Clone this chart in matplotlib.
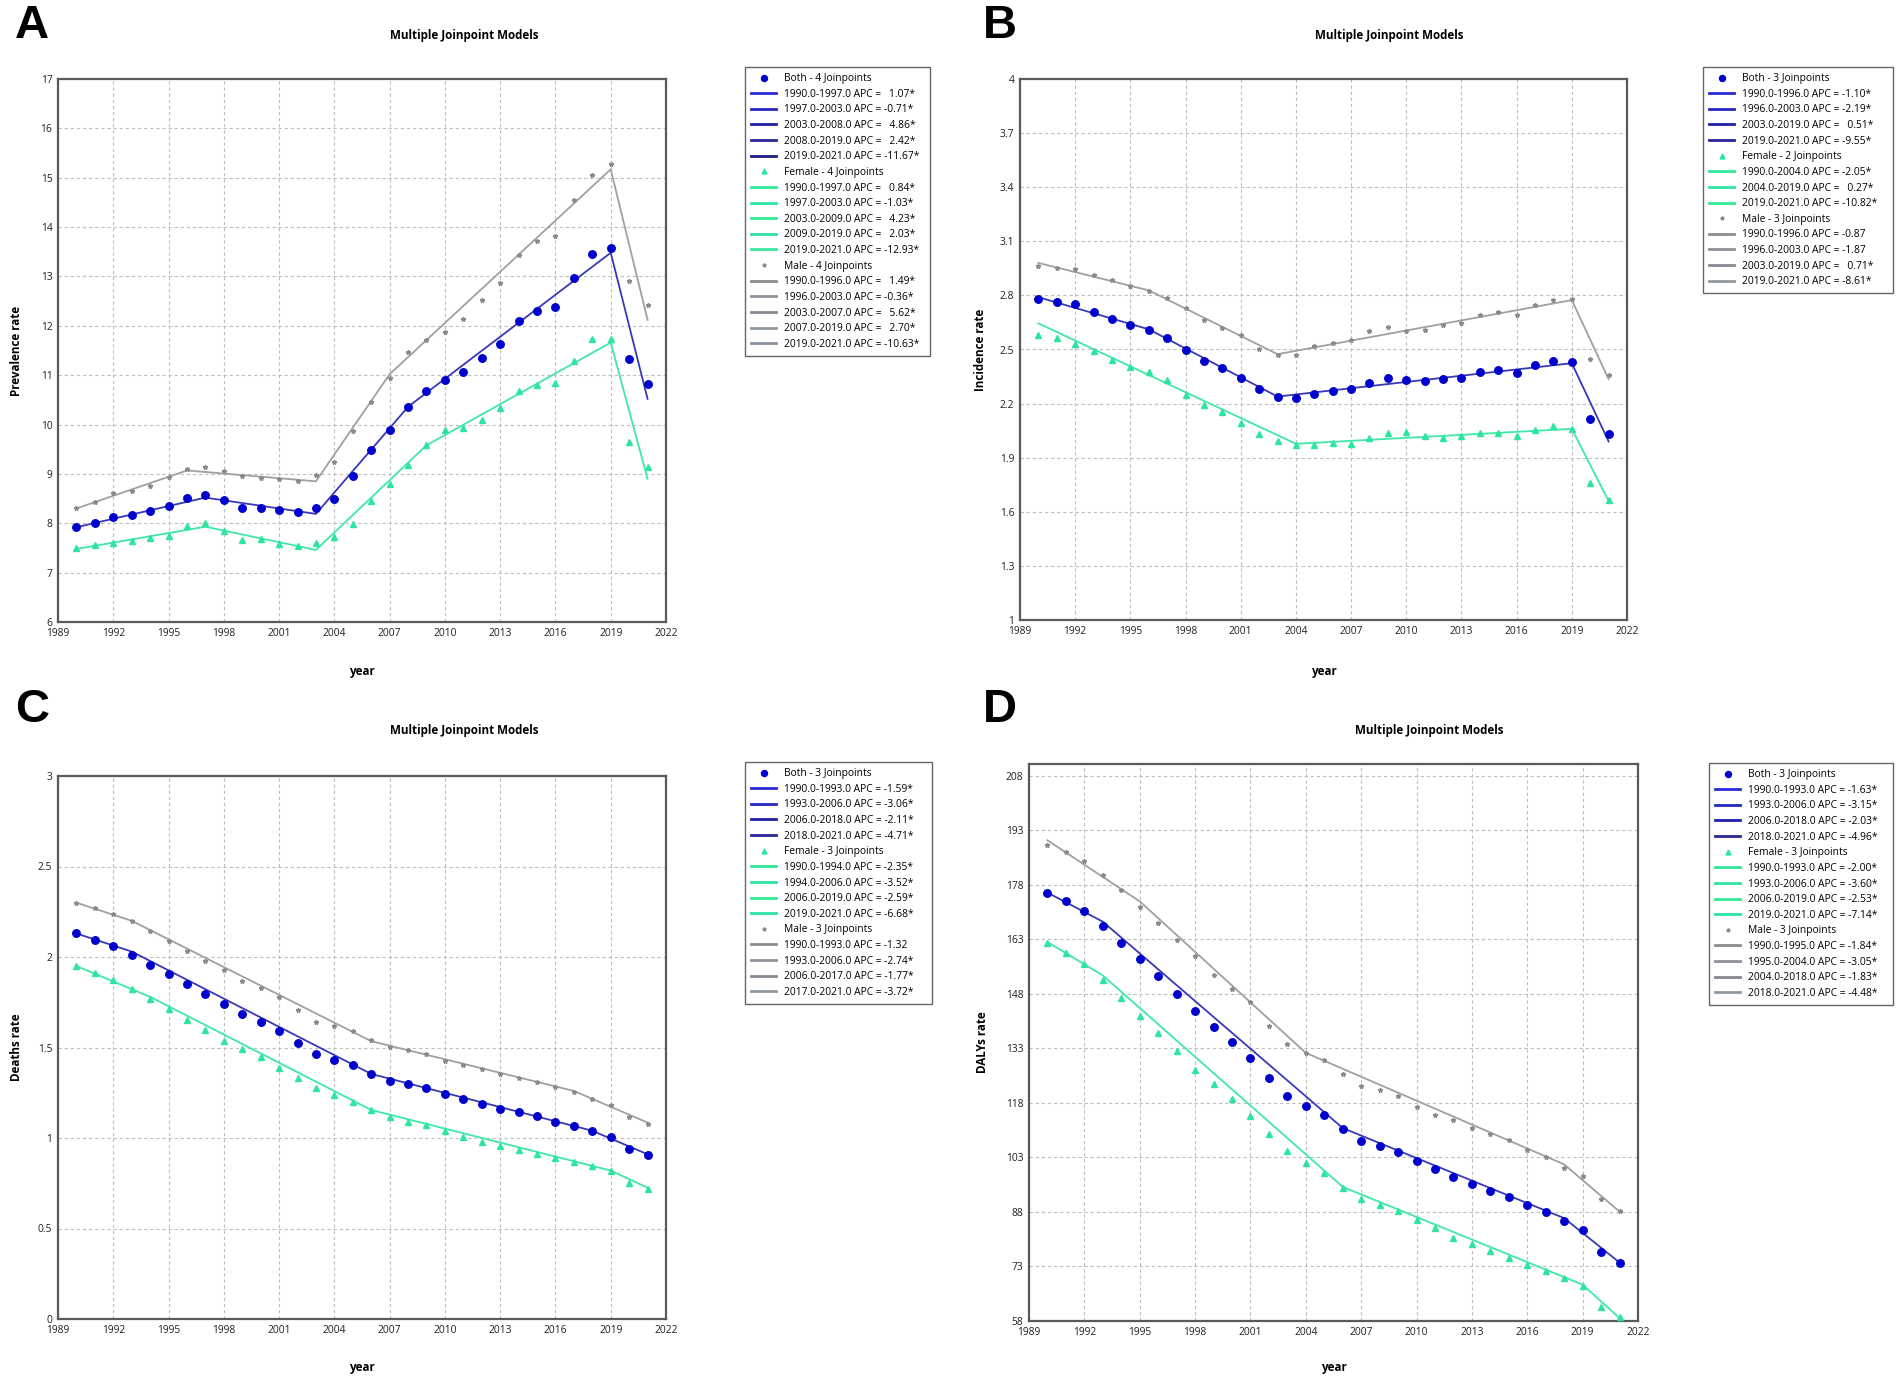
import numpy as np
import matplotlib
matplotlib.use("Agg")
import matplotlib.pyplot as plt
from matplotlib.lines import Line2D

plt.rcParams['font.family'] = ['Open Sans', 'DejaVu Sans']

W, H = 1902, 1385

years = list(range(1990, 2022))

# ---------------- Panel A : Prevalence ----------------
a_both = [7.92, 8.01, 8.12, 8.16, 8.24, 8.35, 8.52, 8.58, 8.47, 8.31, 8.31, 8.26, 8.22, 8.31,
          8.50, 8.96, 9.48, 9.89, 10.36, 10.68, 10.90, 11.06, 11.34, 11.64, 12.10, 12.31,
          12.38, 12.96, 13.45, 13.57, 11.32, 10.82]
a_female = [7.49, 7.55, 7.60, 7.64, 7.70, 7.75, 7.95, 8.01, 7.84, 7.66, 7.69, 7.58, 7.54, 7.60,
            7.72, 7.98, 8.45, 8.79, 9.18, 9.58, 9.88, 9.94, 10.10, 10.34, 10.67, 10.81,
            10.85, 11.28, 11.73, 11.73, 9.64, 9.13]
a_male = [8.31, 8.43, 8.61, 8.66, 8.75, 8.94, 9.09, 9.14, 9.05, 8.95, 8.91, 8.90, 8.85, 8.97,
          9.24, 9.87, 10.45, 10.94, 11.46, 11.72, 11.87, 12.13, 12.52, 12.87, 13.43, 13.72,
          13.82, 14.54, 15.06, 15.28, 12.90, 12.42]
a_both_jp = [1990, 1997, 2003, 2008, 2019, 2021]
a_both_fit = [7.92, 8.52, 8.19, 10.36, 13.48, 10.52]
a_both_apc = ["1.07*", "-0.71*", "4.86*", "2.42*", "-11.67*"]
a_female_jp = [1990, 1997, 2003, 2009, 2019, 2021]
a_female_fit = [7.48, 7.93, 7.46, 9.58, 11.66, 8.90]
a_female_apc = ["0.84*", "-1.03*", "4.23*", "2.03*", "-12.93*"]
a_male_jp = [1990, 1996, 2003, 2007, 2019, 2021]
a_male_fit = [8.30, 9.07, 8.85, 11.02, 15.17, 12.12]
a_male_apc = ["1.49*", "-0.36*", "5.62*", "2.70*", "-10.63*"]

# ---------------- Panel B : Incidence ----------------
b_both = [2.778, 2.765, 2.750, 2.710, 2.671, 2.636, 2.609, 2.563, 2.498, 2.437, 2.397, 2.344,
          2.279, 2.239, 2.230, 2.254, 2.270, 2.279, 2.316, 2.340, 2.330, 2.327, 2.334, 2.344,
          2.378, 2.386, 2.367, 2.413, 2.439, 2.430, 2.116, 2.029]
b_female = [2.579, 2.563, 2.533, 2.489, 2.443, 2.401, 2.377, 2.331, 2.250, 2.195, 2.156, 2.094,
            2.033, 1.990, 1.968, 1.968, 1.981, 1.977, 2.010, 2.038, 2.042, 2.021, 2.008, 2.019,
            2.036, 2.036, 2.019, 2.051, 2.077, 2.057, 1.760, 1.668]
b_male = [2.962, 2.953, 2.949, 2.912, 2.883, 2.851, 2.824, 2.783, 2.728, 2.664, 2.618, 2.579,
          2.505, 2.469, 2.470, 2.520, 2.537, 2.555, 2.603, 2.622, 2.600, 2.610, 2.634, 2.649,
          2.693, 2.706, 2.691, 2.748, 2.774, 2.780, 2.447, 2.360]
b_both_jp = [1990, 1996, 2003, 2019, 2021]
b_both_fit = [2.790, 2.612, 2.239, 2.424, 1.990]
b_both_apc = ["-1.10*", "-2.19*", "0.51*", "-9.55*"]
b_female_jp = [1990, 2004, 2019, 2021]
b_female_fit = [2.645, 1.977, 2.060, 1.660]
b_female_apc = ["-2.05*", "0.27*", "-10.82*"]
b_male_jp = [1990, 1996, 2003, 2019, 2021]
b_male_fit = [2.980, 2.828, 2.474, 2.774, 2.336]
b_male_apc = ["-0.87", "-1.87", "0.71*", "-8.61*"]

# ---------------- Panel C : Deaths ----------------
c_both = [2.13, 2.096, 2.062, 2.013, 1.958, 1.904, 1.849, 1.794, 1.739, 1.685, 1.642, 1.591,
          1.524, 1.466, 1.433, 1.403, 1.354, 1.316, 1.297, 1.279, 1.241, 1.216, 1.186, 1.160,
          1.141, 1.119, 1.091, 1.066, 1.036, 1.007, 0.937, 0.904]
c_female = [1.95, 1.914, 1.871, 1.822, 1.766, 1.711, 1.654, 1.595, 1.535, 1.490, 1.447, 1.385,
            1.332, 1.279, 1.237, 1.200, 1.153, 1.115, 1.091, 1.072, 1.036, 1.008, 0.977, 0.955,
            0.933, 0.912, 0.888, 0.866, 0.843, 0.815, 0.750, 0.716]
c_male = [2.30, 2.270, 2.240, 2.197, 2.141, 2.088, 2.033, 1.979, 1.930, 1.869, 1.826, 1.780,
          1.707, 1.642, 1.618, 1.589, 1.539, 1.504, 1.484, 1.464, 1.427, 1.403, 1.381, 1.354,
          1.332, 1.312, 1.281, 1.253, 1.214, 1.184, 1.115, 1.080]
c_both_jp = [1990, 1993, 2006, 2018, 2021]
c_both_fit = [2.13, 2.03, 1.354, 1.04, 0.91]
c_both_apc = ["-1.59*", "-3.06*", "-2.11*", "-4.71*"]
c_female_jp = [1990, 1994, 2006, 2019, 2021]
c_female_fit = [1.95, 1.78, 1.155, 0.82, 0.725]
c_female_apc = ["-2.35*", "-3.52*", "-2.59*", "-6.68*"]
c_male_jp = [1990, 1993, 2006, 2017, 2021]
c_male_fit = [2.30, 2.20, 1.535, 1.26, 1.085]
c_male_apc = ["-1.32", "-2.74*", "-1.77*", "-3.72*"]

# ---------------- Panel D : DALYs ----------------
d_both = [175.9, 173.7, 170.9, 166.7, 162.1, 157.5, 152.9, 148.0, 143.2, 138.8, 134.8, 130.5,
          124.8, 120.0, 117.2, 114.6, 110.8, 107.5, 106.2, 104.6, 101.9, 99.7, 97.6, 95.6,
          93.9, 92.1, 90.0, 88.1, 85.6, 83.1, 77.1, 74.1]
d_female = [161.9, 159.4, 156.2, 151.9, 146.8, 141.9, 137.3, 132.2, 127.1, 123.1, 119.2, 114.3,
            109.5, 104.9, 101.4, 98.8, 94.7, 91.5, 89.9, 88.4, 85.8, 83.5, 80.8, 79.1,
            77.2, 75.4, 73.5, 71.8, 69.9, 67.6, 61.8, 59.0]
d_male = [189.0, 187.2, 184.7, 180.7, 176.6, 172.0, 167.5, 162.9, 158.5, 153.3, 149.5, 145.7,
          139.3, 134.1, 131.8, 129.9, 125.9, 122.7, 121.5, 119.9, 117.0, 114.8, 113.3, 111.1,
          109.5, 107.8, 105.1, 103.2, 100.0, 97.8, 91.5, 88.3]
d_both_jp = [1990, 1993, 2006, 2018, 2021]
d_both_fit = [175.9, 167.9, 111.1, 86.3, 74.1]
d_both_apc = ["-1.63*", "-3.15*", "-2.03*", "-4.96*"]
d_female_jp = [1990, 1993, 2006, 2019, 2021]
d_female_fit = [162.3, 153.1, 94.9, 68.0, 58.8]
d_female_apc = ["-2.00*", "-3.60*", "-2.53*", "-7.14*"]
d_male_jp = [1990, 1995, 2004, 2018, 2021]
d_male_fit = [190.3, 173.5, 131.8, 101.1, 88.1]
d_male_apc = ["-1.84*", "-3.05*", "-1.83*", "-4.48*"]

# ---------------- styling ----------------
styles = {
    'Both':   dict(marker='o', ms=5.4, mcolor='#0000CC', lcolor='#3838B8',
                   shades=['#2A2AD8', '#2626C0', '#2020A8', '#262698', '#1E1E88']),
    'Female': dict(marker='^', ms=4.4, mcolor='#2EE5A0', lcolor='#40E8A8',
                   shades=['#30E898', '#2EE6A0', '#32EA94', '#2CE2A4', '#38E6A0']),
    'Male':   dict(marker='*', ms=3.4, mcolor='#8A8A8A', lcolor='#A0A0A0',
                   shades=['#8C8C8C', '#909098', '#888890', '#9098A0', '#8890A0']),
}

panels = [
    dict(letter='A', rect=(58, 79, 666, 622), ylim=(6, 17),
         yticks=list(range(6, 18)), yfmt='{:g}', ylabel='Prevalence rate',
         data={'Both': (a_both, a_both_jp, a_both_fit, a_both_apc),
               'Female': (a_female, a_female_jp, a_female_fit, a_female_apc),
               'Male': (a_male, a_male_jp, a_male_fit, a_male_apc)},
         legend=(745, 67, 930), title=(464, 35), letter_xy=(15, 4),
         ylabel_x=17, year_y=671),
    dict(letter='B', rect=(1020, 79, 1627, 620), ylim=(1, 4),
         yticks=[1, 1.3, 1.6, 1.9, 2.2, 2.5, 2.8, 3.1, 3.4, 3.7, 4], yfmt='{:g}',
         ylabel='Incidence rate',
         data={'Both': (b_both, b_both_jp, b_both_fit, b_both_apc),
               'Female': (b_female, b_female_jp, b_female_fit, b_female_apc),
               'Male': (b_male, b_male_jp, b_male_fit, b_male_apc)},
         legend=(1703, 67, 1893), title=(1389, 35), letter_xy=(983, 4),
         ylabel_x=980, year_y=671),
    dict(letter='C', rect=(58, 776, 666, 1319), ylim=(0, 3),
         yticks=[0, 0.5, 1, 1.5, 2, 2.5, 3], yfmt='{:g}', ylabel='Deaths rate',
         data={'Both': (c_both, c_both_jp, c_both_fit, c_both_apc),
               'Female': (c_female, c_female_jp, c_female_fit, c_female_apc),
               'Male': (c_male, c_male_jp, c_male_fit, c_male_apc)},
         legend=(745, 762, 932), title=(464, 731), letter_xy=(15, 688),
         ylabel_x=17, year_y=1367),
    dict(letter='D', rect=(1029, 764, 1638, 1321), ylim=(58, 211.3),
         yticks=list(range(58, 209, 15)), yfmt='{:g}', ylabel='DALYs rate',
         data={'Both': (d_both, d_both_jp, d_both_fit, d_both_apc),
               'Female': (d_female, d_female_jp, d_female_fit, d_female_apc),
               'Male': (d_male, d_male_jp, d_male_fit, d_male_apc)},
         legend=(1709, 763, 1893), title=(1429, 731), letter_xy=(983, 688),
         ylabel_x=982, year_y=1367),
]

xticks = list(range(1989, 2023, 3))

fig = plt.figure(figsize=(W / 100, H / 100), dpi=100)
fig.patch.set_facecolor('white')


def fx(x):
    return x / W


def fy(y):
    return 1 - y / H


for p in panels:
    l, t, r, b = p['rect']
    ax = fig.add_axes([fx(l), fy(b), (r - l) / W, (b - t) / H])
    ax.set_xlim(1989, 2022)
    ax.set_ylim(*p['ylim'])
    ax.set_xticks(xticks)
    ax.set_xticklabels([str(x) for x in xticks])
    ax.set_yticks(p['yticks'])
    ax.set_yticklabels([p['yfmt'].format(v) for v in p['yticks']])
    ax.tick_params(length=0, labelsize=7.4, colors='#202020', pad=4)
    ax.grid(True, linestyle=(0, (3, 2.5)), color='#BEBEBE', linewidth=0.8)
    ax.set_axisbelow(True)
    for s in ax.spines.values():
        s.set_color('#5A5A5A')
        s.set_linewidth(1.6)

    handles, labels = [], []
    for name in ['Both', 'Female', 'Male']:
        obs, jp, fit, apc = p['data'][name]
        st = styles[name]
        ax.plot(jp, fit, color=st['lcolor'], lw=1.3, zorder=3)
        ax.plot(years, obs, linestyle='none', marker=st['marker'], ms=st['ms'],
                color=st['mcolor'], mec=st['mcolor'], zorder=4)
        nseg = len(jp) - 1
        handles.append(Line2D([], [], linestyle='none', marker=st['marker'],
                              ms=st['ms'] * 0.8, color=st['mcolor']))
        labels.append(f"{name} - {nseg - 1} Joinpoints")
        for i in range(nseg):
            val = apc[i]
            pad = '  ' if not val.startswith('-') else ''
            handles.append(Line2D([], [], color=st['shades'][i], lw=2.0))
            labels.append(f"{jp[i]:.1f}-{jp[i+1]:.1f} APC = {pad}{val}")

    lx0, ly0, lx1 = p['legend']
    leg = fig.legend(handles, labels, loc='upper left',
                     bbox_to_anchor=(fx(lx0), fy(ly0) - 0.5, (lx1 - lx0) / W, 0.5),
                     mode='expand', frameon=True, fancybox=False,
                     edgecolor='#404040', fontsize=7.4, handlelength=2.4,
                     handletextpad=0.8, labelspacing=0.45, borderpad=0.6,
                     borderaxespad=0)
    leg.get_frame().set_linewidth(1.0)

    tx, ty = p['title']
    fig.text(fx(tx), fy(ty), 'Multiple Joinpoint Models', ha='center', va='center',
             fontsize=8.4, fontweight='bold')
    fig.text(fx((l + r) / 2), fy(p['year_y']), 'year', ha='center', va='center',
             fontsize=8.4, fontweight='bold')
    fig.text(fx(p['ylabel_x']), fy((t + b) / 2), p['ylabel'], ha='center', va='center',
             rotation=90, fontsize=8.4, fontweight='bold')
    lx, lyy = p['letter_xy']
    fig.text(fx(lx), fy(lyy), p['letter'], ha='left', va='top', fontsize=34,
             fontweight='bold', family='Liberation Sans')

fig.savefig('out.png', dpi=100, facecolor='white')
